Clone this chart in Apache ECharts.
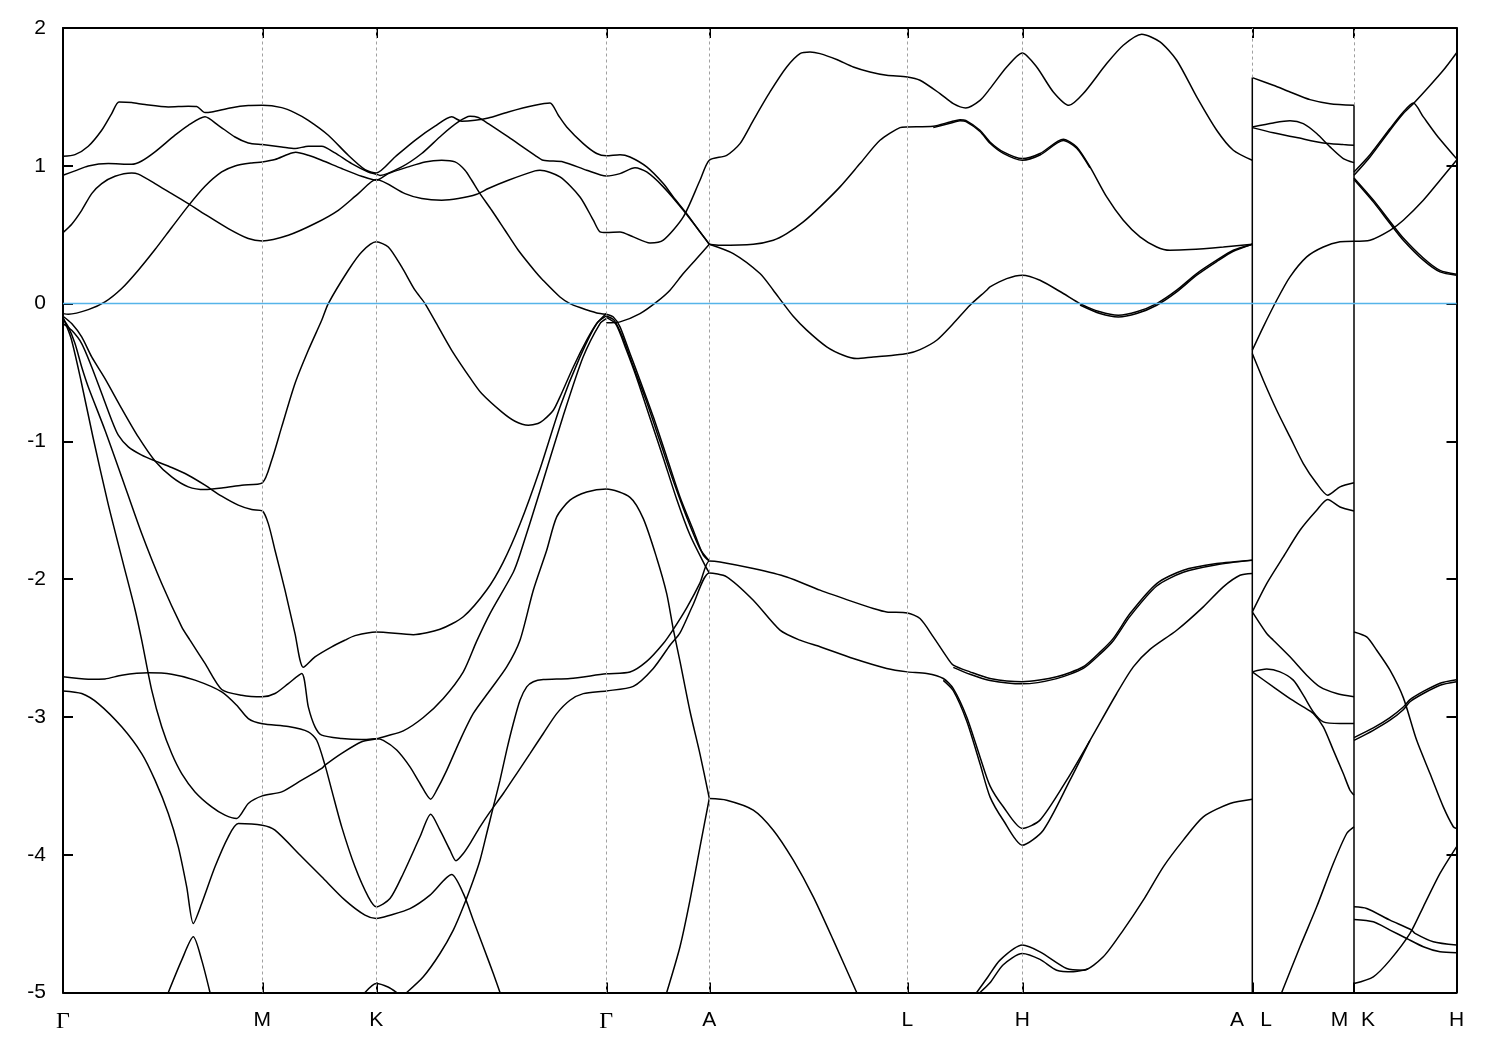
<!DOCTYPE html>
<html>
<head>
<meta charset="utf-8">
<script src="https://cdn.jsdelivr.net/npm/echarts@6/dist/echarts.min.js"></script>
<style>html,body{margin:0;padding:0;background:#fff}#c{width:1500px;height:1050px}</style>
</head>
<body>
<div id="c"></div>
<script>
// ---- k-path (path distance units) ----
const K_END = 1393.5;
const tickK = [199.3, 313.3, 543.3, 646.3, 844.3, 959.3, 1189.3, 1291];
const labelK = [0, 199.3, 313.3, 543.3, 646.3, 844.3, 959.3, 1174, 1203, 1276.5, 1305, 1393.5];
const labelText = ['Γ', 'M', 'K', 'Γ', 'A', 'L', 'H', 'A', 'L', 'M', 'K', 'H'];
const energyTicks = [2, 1, 0, -1, -2, -3, -4, -5];

// ---- bands [k, E(eV)] ----
const G1 = [[0,1.069],[12,1.081],[25.3,1.142],[38.7,1.258],[48.7,1.379],[56,1.463],[68.7,1.459],[82,1.444],[105.3,1.427],[125.3,1.432],[133.7,1.43],[142,1.386],[148.7,1.391],[168.7,1.422],[185.3,1.437],[199.3,1.439],[218.7,1.422],[232,1.384],[245.3,1.33],[265.3,1.222],[285.3,1.076],[302,0.972],[313.3,0.948],[332,1.064],[352,1.185],[372,1.287],[388.7,1.355],[398.7,1.323],[412,1.33],[425.3,1.347],[445.3,1.391],[472,1.439],[487,1.456],[495.3,1.367],[503.7,1.282],[520.3,1.161],[533.7,1.089],[543.3,1.072],[557,1.081],[567,1.064],[583.7,0.992],[600.3,0.871],[610.3,0.774],[623.7,0.653],[637,0.52],[646.3,0.431]];
const G2 = [[0,0.931],[12,0.963],[25.3,0.999],[45.3,1.016],[68.7,1.011],[78.7,1.035],[92,1.101],[112,1.222],[125.3,1.294],[142,1.355],[155.3,1.294],[172,1.209],[185.3,1.166],[199.3,1.154],[218.7,1.137],[232,1.125],[245.3,1.142],[258.7,1.142],[272,1.093],[288.7,1.016],[305.3,0.955],[313.3,0.939],[317,0.93],[338.7,0.992],[358.7,1.089],[378.7,1.222],[395.3,1.318],[407,1.359],[415.3,1.35],[425.3,1.306],[445.3,1.209],[472,1.076],[480.3,1.04],[500.3,1.028],[523.7,0.968],[543.3,0.926],[557,0.943],[572,0.985],[583.7,0.955],[600.3,0.847],[620.3,0.677],[646.3,0.431]];
const G3 = [[0,0.515],[8.7,0.576],[18.7,0.677],[28.7,0.798],[38.7,0.871],[52,0.924],[68.7,0.948],[75.3,0.939],[92,0.871],[108.7,0.798],[125.3,0.726],[142,0.648],[165.3,0.544],[185.3,0.472],[199.3,0.455],[225.3,0.496],[252,0.581],[275.3,0.677],[295.3,0.798],[313.3,0.9],[342,0.798],[358.7,0.762],[378.7,0.75],[395.3,0.762],[413.7,0.793],[425.3,0.835],[445.3,0.895],[472,0.963],[477,0.968],[497,0.919],[517,0.774],[530.3,0.605],[537,0.52],[543.3,0.515],[557,0.52],[570.3,0.484],[587,0.44],[600.3,0.46],[620.3,0.629],[637,0.895],[646.3,1.04],[663.7,1.076],[677,1.161],[690.3,1.33],[707,1.536],[723.7,1.717],[737,1.814],[747,1.826],[757,1.814],[773.7,1.771],[790.3,1.717],[807,1.681],[823.7,1.657],[844.3,1.645],[857,1.621],[877,1.524],[890.3,1.451],[902.7,1.42],[917,1.475],[927,1.56],[943.7,1.717],[959.3,1.819],[973.7,1.717],[990.3,1.536],[1006,1.439],[1020.3,1.524],[1043.7,1.742],[1060.3,1.875],[1078.7,1.955],[1097,1.899],[1113.7,1.766],[1133.7,1.5],[1153.7,1.258],[1170.3,1.113],[1189.3,1.04]];
const G4 = [[0,-0.073],[5.3,-0.077],[25.3,-0.044],[42,0.012],[58.7,0.109],[75.3,0.242],[92,0.392],[108.7,0.552],[125.3,0.709],[142,0.851],[158.7,0.955],[172,0.999],[188.7,1.021],[199.3,1.028],[212,1.045],[225.3,1.084],[232.7,1.098],[245.3,1.076],[258.7,1.04],[278.7,0.98],[298.7,0.924],[313.3,0.895],[325.3,0.943],[345.3,0.992],[362,1.028],[378.7,1.04],[392,1.028],[402,0.968],[408.7,0.895],[417,0.798],[428.7,0.677],[442,0.532],[455.3,0.387],[472,0.235],[480,0.17],[497,0.048],[507,0.0],[517,-0.029],[533.7,-0.068],[543.3,-0.077]];
const CB5 = [[543.3,-0.14],[557,-0.133],[577,-0.073],[593.7,0.012],[607,0.097],[620.3,0.218],[633.7,0.327],[646.3,0.431]];
const AL1 = [[646.3,0.431],[657,0.423],[690.3,0.431],[710.3,0.46],[723.7,0.508],[740.3,0.593],[757,0.702],[777,0.847],[797,1.016],[817,1.185],[837,1.277],[844.3,1.282],[870.3,1.287],[887,1.318],[897,1.335],[902.7,1.33],[917,1.258],[927,1.173],[940.3,1.101],[959.3,1.052],[977,1.089],[1000.3,1.193],[1013.7,1.137],[1027,0.992],[1043.7,0.774],[1060.3,0.605],[1077,0.484],[1093.7,0.411],[1107,0.387],[1127,0.392],[1160.3,0.411],[1189.3,0.431]];
const AL1b = [[870.3,1.278],[887,1.308],[897,1.326],[903,1.321],[917,1.249],[927,1.163],[940.3,1.09],[959.3,1.04],[977,1.078],[1000.3,1.183],[1013.7,1.128],[1027,0.985]];
const AL2 = [[646.3,0.431],[670.3,0.363],[697,0.218],[710.3,0.097],[720.3,0.0],[730,-0.09],[743.7,-0.193],[763.7,-0.314],[780.3,-0.375],[793.7,-0.399],[810.3,-0.387],[830.3,-0.375],[844.3,-0.363],[857,-0.334],[873.7,-0.266],[890.3,-0.145],[907,-0.012],[923.7,0.097],[927,0.121],[943.7,0.181],[959.3,0.206],[977,0.169],[1000.3,0.073],[1017,0.0],[1037,-0.06],[1055.3,-0.085],[1073.7,-0.06],[1093.7,0.0],[1113.7,0.097],[1133.7,0.218],[1153.7,0.315],[1170.3,0.387],[1189.3,0.431]];
const AL2b = [[1017,-0.01],[1037,-0.072],[1055.3,-0.097],[1073.7,-0.072],[1093.7,-0.012],[1113.7,0.085],[1133.7,0.206],[1153.7,0.305],[1170.3,0.38],[1189.3,0.431]];
const VB = [[0,-0.092],[8.7,-0.145],[18.7,-0.242],[28.7,-0.387],[42,-0.544],[58.7,-0.762],[75.3,-0.968],[92,-1.142],[108.7,-1.258],[125.3,-1.33],[142,-1.35],[158.7,-1.338],[178.7,-1.318],[199.3,-1.301],[208.7,-1.137],[218.7,-0.895],[232,-0.58],[245.3,-0.339],[258.7,-0.121],[265.3,0.0],[285.3,0.242],[298.7,0.375],[313.3,0.448],[325.3,0.411],[338.7,0.266],[352,0.097],[362,0.0],[375.3,-0.169],[388.7,-0.339],[408.7,-0.556],[418.7,-0.653],[438.7,-0.786],[452,-0.854],[465.3,-0.883],[475,-0.87],[480.3,-0.847],[490.3,-0.774],[497,-0.677],[510.3,-0.46],[523.7,-0.266],[533.7,-0.145],[543.3,-0.072]];
const VA = [[0,-0.145],[8.7,-0.194],[18.7,-0.29],[28.7,-0.46],[38.7,-0.653],[48.7,-0.847],[55.3,-0.955],[65.3,-1.04],[78.7,-1.1],[92,-1.142],[108.7,-1.19],[125.3,-1.246],[142,-1.318],[158.7,-1.398],[175.3,-1.463],[188.7,-1.495],[199.3,-1.505],[205.3,-1.597],[212,-1.79],[222,-2.08],[232,-2.395],[240.3,-2.64],[252,-2.564],[268.7,-2.491],[282,-2.443],[292,-2.41],[313.3,-2.383],[350.3,-2.403],[377,-2.364],[400.3,-2.273],[423.7,-2.079],[440,-1.88],[457,-1.6],[477,-1.2],[497,-0.75],[517,-0.387],[533.7,-0.145],[543.3,-0.09]];
const SA = [[0,-0.11],[5.3,-0.169],[12,-0.29],[18.7,-0.46],[25.3,-0.605],[42,-0.919],[58.7,-1.258],[78.7,-1.669],[98.7,-2.032],[118.7,-2.346],[127,-2.443],[142,-2.612],[158.7,-2.801],[178.7,-2.843],[199.3,-2.854],[212,-2.83],[225.3,-2.758],[238.7,-2.685],[245.3,-2.927],[252,-3.072],[258.7,-3.132],[278.7,-3.156],[298.7,-3.164],[313.3,-3.159],[320.3,-3.17],[333.7,-3.24],[347,-3.362],[357,-3.483],[367.7,-3.597],[373.7,-3.532],[383.7,-3.388],[397,-3.17],[410.3,-2.975],[427,-2.806],[443.7,-2.637],[457,-2.443],[470.3,-2.08],[483.7,-1.79],[493.7,-1.548],[507,-1.427],[523.7,-1.367],[543.3,-1.345],[567,-1.406],[580.3,-1.561],[593.7,-1.846],[603.7,-2.105],[610.3,-2.364],[617,-2.597],[627,-2.959],[637,-3.27],[646.3,-3.59]];
const SB = [[0,-0.1],[8,-0.25],[18,-0.56],[30,-0.97],[45,-1.45],[60,-1.88],[72,-2.22],[78.7,-2.443],[88.7,-2.806],[98.7,-3.072],[108.7,-3.266],[118.7,-3.411],[132,-3.544],[148.7,-3.653],[162,-3.713],[173.7,-3.737],[185.3,-3.628],[199.3,-3.573],[218.7,-3.544],[238.7,-3.459],[258.7,-3.374],[262,-3.35],[278.7,-3.264],[298.7,-3.18],[313.3,-3.159],[323.7,-3.138],[340.3,-3.101],[360.3,-3.004],[380.3,-2.866],[400.3,-2.673],[413.7,-2.45],[427,-2.25],[450.3,-1.95],[457,-1.82],[477,-1.36],[500,-0.82],[520,-0.39],[537,-0.145],[543.3,-0.11]];
const G27 = [[0,-2.709],[25.3,-2.726],[42,-2.724],[58.7,-2.697],[85.3,-2.68],[108.7,-2.69],[132,-2.733],[158.7,-2.818],[173.7,-2.915],[185.3,-3.012],[199.3,-3.05],[225.3,-3.07],[245.3,-3.108],[253.7,-3.169],[262,-3.35],[268.7,-3.531],[278.7,-3.798],[292,-4.088],[305.3,-4.306],[313.3,-4.378],[327,-4.318],[340.3,-4.136],[357,-3.87],[367.7,-3.706],[377,-3.822],[387,-3.967],[393,-4.044],[400.3,-3.991],[407,-3.919],[417,-3.798],[427,-3.689],[440.3,-3.556],[453.7,-3.411],[467,-3.266],[480.3,-3.12],[493.7,-2.976],[507,-2.879],[520.3,-2.831],[543.3,-2.811],[570.3,-2.778],[590.3,-2.648],[607,-2.48],[617,-2.39],[630.3,-2.182],[646.3,-1.955],[663.7,-1.983],[690.3,-2.153],[717,-2.37],[737,-2.443],[757,-2.491],[790.3,-2.576],[823.7,-2.648],[844.3,-2.673],[863.7,-2.685],[880.3,-2.721],[890.3,-2.794],[903.7,-3.0],[917,-3.29],[927,-3.5],[940.3,-3.652],[959.3,-3.809],[977,-3.749],[1003.7,-3.459],[1027,-3.17],[1053.7,-2.83],[1070.3,-2.637],[1087,-2.51],[1113.7,-2.371],[1140.3,-2.201],[1160.3,-2.056],[1177,-1.972],[1189.3,-1.959]];
const G27b = [[880.3,-2.735],[890.3,-2.81],[903.7,-3.03],[917,-3.34],[927,-3.58],[940.3,-3.75],[959.3,-3.931],[980.3,-3.822],[1007,-3.459],[1027,-3.17]];
const C27 = [[343.7,-5.0],[360.3,-4.886],[377,-4.717],[390.3,-4.547],[400.3,-4.378],[410.3,-4.185],[417,-4.04],[423.7,-3.846],[430.3,-3.653],[437,-3.459],[443.7,-3.241],[450.3,-3.048],[457,-2.879],[463.7,-2.782],[470.3,-2.745],[480.3,-2.729],[507,-2.721],[543.3,-2.687],[567,-2.674],[583.7,-2.597],[600.3,-2.467],[610.3,-2.364],[623.7,-2.208],[637,-2.027],[646.3,-1.868],[657,-1.875],[690.3,-1.923],[723.7,-1.984],[757,-2.08],[790.3,-2.165],[810.3,-2.213],[823.7,-2.238],[844.3,-2.245],[857,-2.286],[870.3,-2.419],[883.7,-2.564],[890.3,-2.624],[907,-2.673],[927,-2.721],[959.3,-2.745],[993.7,-2.709],[1020.3,-2.636],[1037,-2.53],[1050.3,-2.43],[1067,-2.25],[1093.7,-2.032],[1120.3,-1.935],[1153.7,-1.887],[1189.3,-1.862]];
const C27b = [[890.3,-2.64],[907,-2.69],[927,-2.735],[959.3,-2.76],[993.7,-2.722],[1020.3,-2.648],[1037,-2.545],[1050.3,-2.447],[1067,-2.27],[1093.7,-2.05],[1120.3,-1.95],[1153.7,-1.895],[1189.3,-1.862]];
const R1 = [[543.3,-0.077],[550.3,-0.097],[557,-0.169],[567,-0.363],[577,-0.556],[590.3,-0.822],[603.7,-1.113],[617,-1.403],[630.3,-1.645],[640.3,-1.826],[646.3,-1.868]];
const R2 = [[543.3,-0.1],[553,-0.15],[563,-0.33],[573.7,-0.54],[587,-0.83],[600.3,-1.12],[613.7,-1.42],[627,-1.68],[642,-1.9],[646.3,-1.955]];
const R3 = [[543.3,-0.09],[551,-0.12],[560,-0.25],[570,-0.45],[583,-0.7],[597,-1.0],[610,-1.28],[623.7,-1.55],[637,-1.78],[646.3,-1.868]];
const A36L = [[603.7,-5.0],[617,-4.668],[627,-4.33],[637,-3.943],[646.3,-3.592]];
const A36R = [[646.3,-3.592],[663.7,-3.604],[690.3,-3.676],[710.3,-3.822],[730.3,-4.04],[750.3,-4.306],[770.3,-4.62],[793.7,-5.0]];
const HB1 = [[913.7,-5.0],[925,-4.886],[937,-4.765],[959.3,-4.656],[977,-4.705],[1003.7,-4.826],[1020.3,-4.838],[1040.3,-4.741],[1060.3,-4.547],[1080.3,-4.33],[1100.3,-4.088],[1120.3,-3.894],[1140.3,-3.725],[1167,-3.628],[1189.3,-3.597]];
const HB2 = [[917,-5.0],[927,-4.93],[940,-4.8],[959.3,-4.717],[977,-4.76],[993.7,-4.838],[1010.3,-4.85],[1025,-4.83]];
const LAM = [[105.3,-5.0],[118.7,-4.765],[130.3,-4.596],[138.7,-4.765],[147,-5.0]];
const G28 = [[0,-2.811],[18.7,-2.83],[35.3,-2.903],[58.7,-3.072],[78.7,-3.266],[92,-3.459],[105.3,-3.7],[115.3,-3.943],[123.7,-4.233],[130.3,-4.499],[138.7,-4.354],[152,-4.088],[165.3,-3.87],[175.3,-3.774],[199.3,-3.786],[212,-3.822],[238.7,-4.015],[258.7,-4.16],[282,-4.33],[302,-4.439],[313.3,-4.463],[327,-4.439],[347,-4.391],[367,-4.293],[388.7,-4.144],[400.3,-4.281],[410.3,-4.475],[420.3,-4.668],[430.3,-4.862],[437,-5.0]];
const KHUMP = [[302,-5.0],[313.3,-4.935],[325,-4.96],[333.7,-5.0]];
const LM1 = [[1189.3,1.64],[1210.3,1.584],[1227,1.536],[1247,1.48],[1267,1.451],[1291,1.439]];
const LM2 = [[1189.3,1.282],[1210.3,1.311],[1227,1.326],[1240.3,1.306],[1253.7,1.234],[1267,1.137],[1280.3,1.052],[1291,1.023]];
const LM3 = [[1189.3,1.277],[1210.3,1.239],[1233.7,1.205],[1260.3,1.166],[1280.3,1.154],[1291,1.149]];
const LM4 = [[1189.3,-0.339],[1200.3,-0.169],[1213.7,0.024],[1227,0.194],[1243.7,0.339],[1260.3,0.411],[1277,0.448],[1291,0.452]];
const LM5 = [[1189.3,-0.363],[1200.3,-0.556],[1213.7,-0.774],[1227,-0.968],[1240.3,-1.161],[1253.7,-1.306],[1264.7,-1.391],[1277,-1.33],[1291,-1.301]];
const LM6 = [[1189.3,-2.238],[1203.7,-2.032],[1220.3,-1.838],[1237,-1.645],[1253.7,-1.5],[1264.7,-1.422],[1277,-1.476],[1291,-1.505]];
const LM7 = [[1189.3,-2.238],[1203.7,-2.395],[1210.3,-2.443],[1227,-2.564],[1243.7,-2.697],[1257,-2.782],[1273.7,-2.83],[1291,-2.854]];
const LM8 = [[1189.3,-2.673],[1203.7,-2.653],[1217,-2.673],[1230.3,-2.733],[1240.3,-2.842],[1250.3,-2.963],[1260.3,-3.036],[1277,-3.048],[1291,-3.048]];
const LM9 = [[1189.3,-2.673],[1210.3,-2.782],[1227,-2.867],[1240.3,-2.927],[1250.3,-2.975],[1260.3,-3.072],[1270.3,-3.241],[1280.3,-3.411],[1287,-3.532],[1291,-3.568]];
const LM10 = [[1218.7,-5.0],[1237,-4.668],[1253.7,-4.378],[1270.3,-4.064],[1283.7,-3.846],[1291,-3.798]];
const KH1 = [[1291,0.931],[1307,1.064],[1327,1.258],[1340.3,1.379],[1350.3,1.451],[1367,1.583],[1380.3,1.693],[1393.5,1.819]];
const KH1b = [[1291,0.955],[1307,1.08],[1327,1.27],[1340.3,1.39],[1350.3,1.455],[1360.3,1.355],[1373.7,1.222],[1393.5,1.052]];
const KH2 = [[1291,0.9],[1310.3,0.738],[1327,0.581],[1340.3,0.46],[1360.3,0.315],[1377,0.23],[1393.5,0.206]];
const KH2b = [[1291,0.912],[1310.3,0.752],[1327,0.596],[1340.3,0.476],[1360.3,0.331],[1377,0.241],[1393.5,0.213]];
const KH3 = [[1291,0.452],[1307,0.46],[1327,0.532],[1340.3,0.605],[1360.3,0.75],[1377,0.895],[1393.5,1.04]];
const KH4 = [[1291,-2.383],[1303.7,-2.419],[1313.7,-2.516],[1327,-2.661],[1340.3,-2.86],[1353.7,-3.17],[1367,-3.411],[1380.3,-3.653],[1390.3,-3.797],[1393.5,-3.81]];
const KH5 = [[1291,-3.17],[1310.3,-3.097],[1327,-3.024],[1340,-2.95],[1347,-2.89],[1360.3,-2.83],[1377,-2.77],[1393.5,-2.745]];
const KH5b = [[1291,-3.15],[1310.3,-3.08],[1327,-3.005],[1340,-2.93],[1347,-2.875],[1360.3,-2.815],[1377,-2.755],[1393.5,-2.73]];
const KH6 = [[1291,-4.378],[1303.7,-4.39],[1327,-4.475],[1348.7,-4.547],[1352,-4.571],[1370.3,-4.632],[1393.5,-4.656]];
const KH7 = [[1291,-4.47],[1310.3,-4.487],[1327,-4.547],[1343.7,-4.608],[1360.3,-4.668],[1377,-4.705],[1393.5,-4.712]];
const KH8 = [[1291,-4.935],[1310.3,-4.886],[1327,-4.765],[1347,-4.571],[1360.3,-4.378],[1377,-4.136],[1393.5,-3.943]];
// band jumps at the path discontinuities A|L and M|K
const jumpAL = [[1189.3,-5.0],[1189.3,1.64]];
const jumpMK = [[1291,-5.0],[1291,1.439]];
// Fermi level
const fermi = [[0,0],[K_END,0]];

const bandList = [G1,G2,G3,G4,CB5,AL1,AL1b,AL2,AL2b,VB,VA,SA,SB,G27,G27b,C27,C27b,R1,R2,R3,A36L,A36R,HB1,HB2,LAM,G28,KHUMP,
  LM1,LM2,LM3,LM4,LM5,LM6,LM7,LM8,LM9,LM10,KH1,KH1b,KH2,KH2b,KH3,KH4,KH5,KH5b,KH6,KH7,KH8];

const chart = echarts.init(document.getElementById('c'), null, {renderer:'canvas'});
const FONT = 'Liberation Sans';

// dashed grid: full height at the symmetry points, only above the band jump at A|L and M|K
const gridFull = tickK.filter(v => v !== jumpAL[0][0] && v !== jumpMK[0][0]).map(v => ({xAxis:v}));
const gridPartial = [jumpAL, jumpMK].map(j => [{coord:[j[1][0], j[1][1]]}, {coord:[j[1][0], 2]}]);

const series = [];
series.push({
  type:'line', data:[], silent:true, z:1, symbol:'none',
  markLine:{ silent:true, symbol:'none', label:{show:false},
    lineStyle:{color:'#a0a0a0', width:1, type:[3,3]},
    data: gridFull.concat(gridPartial) }
});
bandList.forEach(d => series.push({
  type:'line', data:d, showSymbol:false, symbol:'none', smooth:0.25, z:3, silent:true,
  lineStyle:{color:'#000', width:1.5}, itemStyle:{color:'#000'}
}));
[jumpAL, jumpMK].forEach(d => series.push({
  type:'line', data:d, showSymbol:false, symbol:'none', z:3, silent:true,
  lineStyle:{color:'#000', width:1.5}
}));
series.push({type:'line', data:fermi, showSymbol:false, symbol:'none', z:4, silent:true,
  lineStyle:{color:'#56B4E9', width:1.5}});

function nearestLabel(v){
  let bi = 0, bd = Infinity;
  labelK.forEach((p,i) => { const d = Math.abs(p - v); if (d < bd){bd = d; bi = i;} });
  return labelText[bi];
}

chart.setOption({
  animation:false,
  backgroundColor:'#fff',
  grid:{left:63, top:28, width:1393.5, height:964.5, containLabel:false},
  xAxis:[{
    type:'value', min:0, max:K_END, position:'bottom',
    axisLine:{show:true, onZero:false, lineStyle:{color:'#000', width:2}},
    axisTick:{show:true, inside:true, length:10, customValues:tickK, lineStyle:{color:'#000', width:2}},
    axisLabel:{show:true, customValues:labelK, margin:17, fontSize:21, color:'#000', fontFamily:FONT,
      showMinLabel:true, showMaxLabel:true,
      formatter:function(v){ const t = nearestLabel(v); return t === 'Γ' ? '{g|Γ}' : t; },
      rich:{g:{fontFamily:'Liberation Serif', fontSize:24, color:'#000'}}},
    splitLine:{show:false}
  },{
    type:'value', min:0, max:K_END, position:'top',
    axisLine:{show:true, onZero:false, lineStyle:{color:'#000', width:2}},
    axisTick:{show:true, inside:true, length:10, customValues:tickK, lineStyle:{color:'#000', width:2}},
    axisLabel:{show:false}, splitLine:{show:false}
  }],
  yAxis:[{
    type:'value', min:-5, max:2, interval:1, position:'left',
    axisLine:{show:true, onZero:false, lineStyle:{color:'#000', width:2}},
    axisTick:{show:true, inside:true, length:10, lineStyle:{color:'#000', width:2}},
    axisLabel:{show:true, margin:17, fontSize:21, color:'#000', fontFamily:FONT,
      formatter:function(v){ return energyTicks.indexOf(v) >= 0 ? String(v) : ''; }},
    splitLine:{show:false}
  },{
    type:'value', min:-5, max:2, interval:1, position:'right',
    axisLine:{show:true, onZero:false, lineStyle:{color:'#000', width:2}},
    axisTick:{show:true, inside:true, length:10, lineStyle:{color:'#000', width:2}},
    axisLabel:{show:false}, splitLine:{show:false}
  }],
  series: series
});
</script>
</body>
</html>
